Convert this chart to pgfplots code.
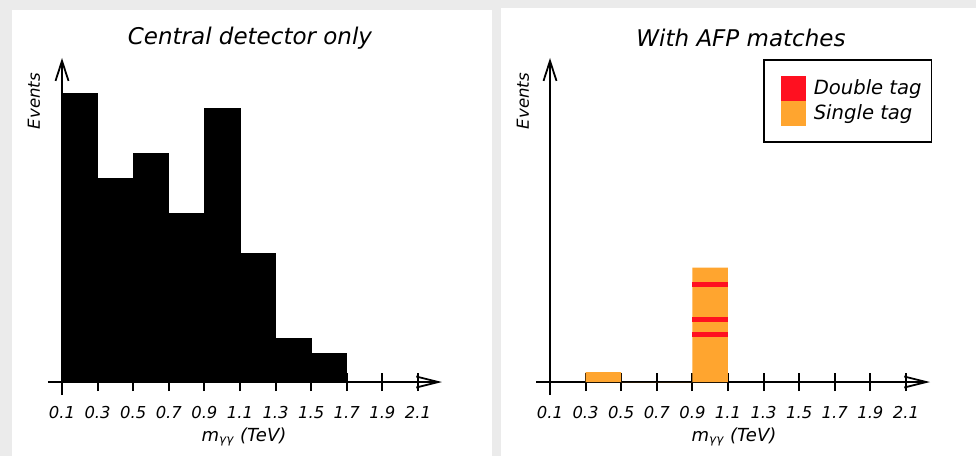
\documentclass[border=0pt]{standalone}
\usepackage{fontspec}
\setmainfont{DejaVu Sans}
\usepackage{pgfplots}
\pgfplotsset{compat=1.18}
\usetikzlibrary{arrows.meta}
\definecolor{bggray}{HTML}{EBEBEB}
\definecolor{storange}{HTML}{FFA52F}
\definecolor{dtred}{HTML}{FF1020}
\pgfplotsset{
 mystyle/.style={
  scale only axis, width=197pt, height=168.5pt,
  axis lines=middle,
  xmin=-0.0787, xmax=2.135, ymin=-13, ymax=324,
  x filter/.expression={x-0.1},
  xtick={0,0.2,0.4,0.6,0.8,1,1.2,1.4,1.6,1.8,2},
  xticklabels={0.1,0.3,0.5,0.7,0.9,1.1,1.3,1.5,1.7,1.9,2.1},
  hide obscured x ticks=false,
  ytick=\empty,
  tick align=center, major tick length=9pt,
  every tick/.style={black, line width=1pt},
  axis line style={black, line width=0.9pt},
  x axis line style={-{Straight Barb[length=11pt,width=5.5pt]}},
  y axis line style={-{Straight Barb[length=10pt,width=6.5pt]}},
  xticklabel style={font=\itshape\fontsize{8.2}{10}\selectfont, anchor=north, yshift=-4pt},
  clip=false,
 }
}
\begin{document}
\begin{tikzpicture}
\path[use as bounding box] (0,0) rectangle (488pt,228pt);
\fill[bggray] (0,0) rectangle (488pt,228pt);
\fill[white] (6pt,0) rectangle (246pt,223pt);
\fill[white] (250.5pt,0) rectangle (488pt,224pt);

\begin{axis}[mystyle, at={(24pt,30.5pt)}, anchor=south west]
\addplot[ybar interval, fill=black, draw=black] coordinates {(0.1,288.7) (0.3,203.7) (0.5,228.3) (0.7,168.7) (0.9,273.3) (1.1,129) (1.3,44) (1.5,28.7) (1.7,28.7)};
\end{axis}

\begin{axis}[mystyle, at={(268pt,30.5pt)}, anchor=south west,
  legend image code/.code={\path (0pt,0pt) (20pt,0pt); \fill[#1] (3.5pt,-6.25pt) rectangle (16pt,6.25pt);},
  legend style={at={(1.006,0.997)}, anchor=north east, draw=black, line width=0.75pt, fill=white,
    inner xsep=5pt, inner ysep=8pt, row sep=0pt,
    font=\itshape\fontsize{9.8}{11}\selectfont,
    nodes={inner ysep=0pt, inner xsep=0pt}},
  legend cell align=left]
\addlegendimage{fill=dtred, draw=none}
\addlegendentry{Double tag}
\addlegendimage{fill=storange, draw=none}
\addlegendentry{Single tag}
\addplot[forget plot, ybar interval, fill=storange, draw=none] coordinates {(0.3,10) (0.5,0) (0.9,114.3) (1.1,114.3)};
\addplot[forget plot, fill=dtred, draw=none, mark=none] coordinates {(0.9,44.7) (1.1,44.7) (1.1,49.7) (0.9,49.7)} -- cycle;
\addplot[forget plot, fill=dtred, draw=none, mark=none] coordinates {(0.9,59.7) (1.1,59.7) (1.1,64.7) (0.9,64.7)} -- cycle;
\addplot[forget plot, fill=dtred, draw=none, mark=none] coordinates {(0.9,94.7) (1.1,94.7) (1.1,99.7) (0.9,99.7)} -- cycle;
\end{axis}

\node[font=\itshape\fontsize{11.5}{14}\selectfont] at (125pt,209pt) {Central detector only};
\node[font=\itshape\fontsize{11.5}{14}\selectfont] at (370.5pt,209pt) {With AFP matches};
\node[font=\itshape\fontsize{8.3}{10}\selectfont, rotate=90] at (17pt,177.5pt) {Events};
\node[font=\itshape\fontsize{8.3}{10}\selectfont, rotate=90] at (261.5pt,177.5pt) {Events};
\node[font=\itshape\fontsize{9}{10}\selectfont] at (122pt,9.5pt) {m\textsubscript{γγ} (TeV)};
\node[font=\itshape\fontsize{9}{10}\selectfont] at (367pt,9.5pt) {m\textsubscript{γγ} (TeV)};
\end{tikzpicture}
\end{document}
